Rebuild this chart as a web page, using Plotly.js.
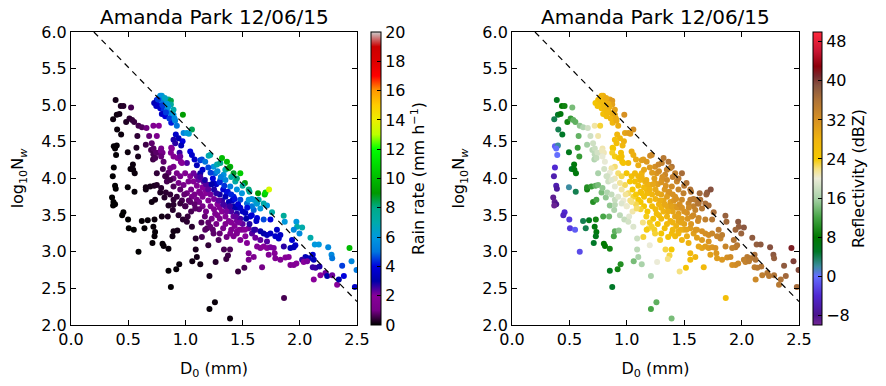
<!DOCTYPE html>
<html>
<head>
<meta charset="utf-8">
<script src="https://cdn.plot.ly/plotly-3.0.1.min.js"></script>
<style>
  html, body { margin: 0; padding: 0; background: #fff; }
  #chart { width: 886px; height: 386px; }
</style>
</head>
<body>
<div id="chart"></div>
<script>
// ---- Data ----
const plotTitle = 'Amanda Park 12/06/15';

// median volume diameter D0 (mm)
const d0 = [
  // black / dark cluster
  0.39,0.435,0.458,0.368,0.40,0.423,0.403,0.438,0.374,0.40,
  0.385,0.394,0.374,0.365,0.385,0.391,0.359,0.371,0.385,0.368,
  0.458,0.447,0.505,0.549,0.499,0.496,0.52,0.543,0.557,0.541,
  0.496,0.555,0.572,0.586,0.482,0.511,0.534,0.525,0.552,0.59,
  0.619,0.642,0.671,0.654,0.654,0.692,0.727,0.706,0.735,0.73,
  0.72,0.735,0.712,0.73,0.80,0.81,0.852,0.794,0.78,0.75,
  0.788,0.852,0.873,0.92,0.946,0.887,0.896,0.93,0.852,0.896,
  0.817,1.06,1.10,1.13,1.21,1.21,1.258,1.39,1.09,1.09,
  1.20,1.264,1.337,1.372,1.357,1.39,1.46,1.515,1.67,1.862,
  // top cluster
  0.773,0.794,0.81,0.75,0.765,0.727,0.823,0.852,0.873,0.873,
  0.78,0.81,0.838,0.794,0.823,0.867,0.896,0.876,0.91,0.978,
  0.896,0.925,1.057,1.03,0.916,0.975,0.963,0.78,0.79,0.80,
  0.76,0.85,0.83,0.86,0.84,0.745,0.905,0.82,
  // purple upper-left
  0.59,0.62,0.66,0.683,0.75,0.72,0.768,0.58,0.654,0.70,
  0.72,0.717,0.788,0.80,0.765,0.876,0.706,0.721,0.744,0.736,
  0.785,0.788,0.809,0.881,0.873,0.896,0.931,0.96,0.949,0.911,
  0.94,0.984,1.013,0.896,
  // middle band
  1.042,1.057,1.08,1.13,1.144,1.173,1.203,1.217,1.013,0.969,
  0.955,0.896,0.867,0.852,0.925,0.955,0.998,1.042,1.071,1.115,
  1.159,1.10,1.13,1.071,1.027,0.984,0.94,0.896,0.832,0.838,
  0.896,0.955,1.013,1.057,1.10,1.13,1.173,1.203,1.246,1.26,
  1.246,1.276,1.305,1.32,1.363,1.392,1.48,1.52,1.553,1.635,
  1.693,1.70,1.731,
  // diagonal band
  1.305,1.334,1.349,1.378,1.421,1.436,1.392,1.363,1.421,1.48,
  1.538,1.465,1.524,1.597,1.626,1.655,1.597,1.567,1.626,1.684,
  1.553,1.494,1.45,1.582,1.757,1.45,1.40,1.50,1.56,1.58,
  1.62,1.713,1.684,1.64,
  // right side
  1.859,1.868,1.97,1.976,2.02,1.947,1.997,2.093,2.131,2.166,
  2.248,2.277,2.283,2.434,2.452,2.385,2.37,2.481,2.496,1.655,
  1.684,1.713,1.743,1.786,1.816,1.932,1.961,1.947,2.049,2.078,
  2.113,2.122,2.113,2.137,2.172,2.224,2.18,2.239,2.283,2.326,
  2.341,2.122,2.02,1.918,1.743,1.80,1.83,1.655,1.713,1.86,
  // lower purple band
  1.655,1.684,1.713,1.743,1.772,1.78,1.728,1.786,1.83,1.874,
  1.903,1.918,1.947,1.97,2.034,2.064,1.553,1.597,1.553,1.626,
  1.538,1.48,1.524,1.582,1.611,1.421,1.392,1.45,1.494,1.553,
  1.611,
  // dense mass
  1.05,1.08,1.10,1.12,1.15,1.15,1.18,1.18,1.20,1.20,
  1.22,1.22,1.25,1.25,1.25,1.28,1.28,1.30,1.30,1.30,
  1.32,1.32,1.33,1.35,1.35,1.35,1.37,1.38,1.38,1.40,
  1.40,1.42,1.42,1.43,1.45,1.45,1.47,1.48,1.50,1.52,
  1.23,1.18,1.15,1.12,1.27,1.20,1.33,1.24,1.30,1.36,
  1.26,1.29,1.36,1.39,1.41,1.44,1.46,1.50,1.48,1.53,
  1.56,1.58,1.54,1.62,1.60,1.27,1.24,1.22,1.30,1.34,
  1.37,1.40,1.43,1.31,1.28,1.35,1.17,1.13,1.20,1.15,
  1.10,1.27,1.23,1.33,1.44,1.47,1.40,1.45,1.35,1.17,
  1.12,1.08,1.05,1.14,1.19,1.03,0.99,1.00,0.97,1.02,
  // extra mid points
  1.144,1.173,1.246,1.217,1.29,0.829,0.867,0.896,0.925,0.955,
  0.998,0.94,0.978,1.013,1.057,0.846,0.89,1.042,1.086,0.803,
  0.75,0.823,0.867
];

// log10 Nw
const nw = [
  5.07,4.99,4.99,4.81,4.87,4.88,4.67,4.60,4.44,4.45,
  4.41,4.32,4.15,4.03,3.90,3.86,3.74,3.68,3.65,3.63,
  3.54,3.50,3.32,3.30,3.44,4.36,4.13,4.12,4.07,4.19,
  3.88,3.82,4.42,4.30,4.77,4.82,4.80,4.97,4.77,3.00,
  3.42,3.32,3.43,3.85,3.88,3.89,3.90,3.68,3.71,3.44,
  3.34,3.27,3.12,3.21,3.11,3.08,3.04,3.48,3.81,3.91,
  3.87,2.74,2.52,2.76,2.83,3.21,3.28,3.29,3.63,3.64,
  3.74,2.87,2.93,2.83,2.67,2.22,2.31,2.09,3.18,3.03,
  3.09,2.86,3.03,2.95,2.90,3.03,2.73,2.78,2.79,2.37,
  5.11,5.13,5.09,5.07,5.03,5.03,5.05,5.08,5.06,5.01,
  4.96,4.94,4.94,4.88,4.85,4.89,4.87,4.76,4.79,4.87,
  4.94,4.72,4.67,4.61,4.60,4.51,4.45,5.13,5.06,5.00,
  5.08,4.98,4.90,4.82,5.02,4.99,4.82,5.10,
  4.72,4.70,4.69,4.58,4.58,4.72,4.72,4.58,4.46,4.39,
  4.33,4.26,4.41,4.35,4.35,4.42,4.48,4.41,4.35,4.28,
  4.38,4.30,4.23,4.41,4.35,4.30,4.28,4.23,4.35,4.48,
  4.55,4.62,4.62,4.53,
  4.37,4.32,4.26,4.25,4.26,4.23,4.31,4.32,4.21,4.21,
  4.30,4.16,4.14,4.08,4.07,4.03,4.07,4.03,3.96,3.98,
  3.96,4.03,4.07,4.07,3.96,3.91,3.94,4.00,4.03,3.96,
  3.89,3.85,3.80,3.75,3.71,3.80,3.85,3.91,3.94,4.07,
  4.16,4.19,4.21,4.28,4.23,4.16,4.07,3.94,3.85,3.80,
  3.78,3.81,3.85,
  3.98,4.05,4.12,4.14,4.07,3.96,3.89,3.80,3.75,3.71,
  3.66,3.60,3.53,3.71,3.66,3.59,3.57,3.48,3.46,3.44,
  3.71,3.80,3.85,3.62,3.54,4.00,4.02,3.90,3.82,3.72,
  3.66,3.63,3.66,3.71,
  3.49,3.41,3.41,3.34,3.33,3.30,3.25,3.19,3.10,3.10,
  3.06,2.96,2.91,3.05,2.87,2.67,2.81,2.52,2.75,3.28,
  3.25,3.23,3.25,3.21,3.18,3.16,3.09,3.06,2.93,2.91,
  2.96,2.89,2.79,2.78,2.80,2.71,2.68,2.67,2.68,2.55,
  2.62,2.62,2.89,3.05,3.44,3.30,3.23,3.16,3.14,3.07,
  3.05,3.07,3.05,3.06,3.05,2.98,2.96,2.91,2.89,2.92,
  2.93,2.82,2.82,2.84,2.86,2.87,2.89,2.93,2.98,3.07,
  3.12,3.16,3.21,3.25,3.19,3.21,3.25,3.28,3.30,3.32,
  3.30,
  3.85,3.78,3.90,3.82,3.88,3.75,3.92,3.80,3.70,3.85,
  3.78,3.62,3.72,3.58,3.85,3.65,3.50,3.78,3.60,3.45,
  3.70,3.55,3.85,3.62,3.48,3.75,3.58,3.68,3.42,3.55,
  3.40,3.62,3.48,3.35,3.52,3.42,3.30,3.45,3.38,3.30,
  3.45,3.55,3.62,3.68,3.38,3.40,3.32,3.30,3.25,3.20,
  3.52,3.70,3.55,3.62,3.70,3.60,3.65,3.55,3.60,3.45,
  3.38,3.50,3.60,3.42,3.30,3.92,4.00,4.08,3.95,3.90,
  3.82,3.78,3.72,4.02,4.10,3.98,3.98,4.02,4.15,4.12,
  4.18,3.80,3.92,3.65,3.48,3.40,3.30,3.25,3.38,3.48,
  3.58,3.65,3.55,3.40,3.32,3.70,3.78,3.62,3.70,3.48,
  3.20,3.30,3.25,3.34,3.16,3.81,3.78,3.71,3.75,3.66,
  3.62,3.50,3.44,3.41,3.34,3.48,3.57,3.68,3.59,4.13,
  4.07,4.03,3.98
];

// rain rate (mm/h)
const rr = [
  0.18,0.25,0.3,0.1,0.12,0.15,0.08,0.1,0.04,0.05,
  0.04,0.03,0.02,0.02,0.01,0.01,0.01,0.01,0.01,0.01,
  0.01,0.01,0.01,0.01,0.01,0.11,0.08,0.09,0.09,0.1,
  0.04,0.05,0.25,0.2,0.25,0.37,0.43,0.6,0.48,0.01,
  0.04,0.03,0.05,0.13,0.14,0.18,0.24,0.12,0.15,0.08,
  0.06,0.06,0.04,0.05,0.06,0.06,0.07,0.15,0.27,0.3,
  0.33,0.04,0.025,0.05,0.07,0.13,0.15,0.17,0.25,0.35,
  0.3,0.13,0.17,0.14,0.16,0.06,0.08,0.08,0.32,0.22,
  0.4,0.31,0.6,0.55,0.5,0.65,0.45,0.6,1.0,0.6,
  5.2,6.2,6.1,4.1,3.9,3.2,6.1,7.8,8.5,7.4,
  3.8,4.4,5.1,3.5,3.9,5.4,6.0,4.2,5.4,9.1,
  7.0,5.0,8.4,6.5,3.6,4.0,3.3,5.8,5.0,4.5,
  4.5,6.0,4.5,4.5,6.0,3.5,5.5,6.5,
  0.59,0.7,0.93,0.85,1.3,1.5,2.0,0.39,0.52,0.6,
  0.6,0.5,1.15,1.0,0.85,1.95,0.8,0.72,0.76,0.63,
  1.05,0.88,0.8,1.95,1.7,1.6,1.85,1.95,2.6,2.7,
  3.2,5.4,6.1,2.8,
  4.0,3.6,3.6,4.4,4.6,5.0,6.8,7.0,2.4,1.9,
  2.2,1.2,1.0,0.8,1.1,1.3,1.6,1.8,1.7,2.2,
  2.4,2.3,2.9,2.2,1.4,1.1,1.0,0.86,0.7,0.6,
  0.66,0.78,0.93,1.0,1.1,1.5,2.1,2.6,3.5,4.9,
  5.9,6.9,7.9,10,10,9.8,10.5,8.9,8.1,9.1,
  10.3,11,13.5,
  4.7,5.8,7.0,8.9,8.7,7.1,5.2,4.2,4.2,4.6,
  4.9,3.4,3.4,6.6,6.3,6.0,4.8,3.6,4.0,4.6,
  6.0,5.9,5.8,5.0,7.1,8.1,7.2,7.4,7.6,6.0,
  6.2,6.0,7.0,7.0,
  7.5,6.0,6.0,7.0,7.0,5.5,5.5,7.0,6.0,6.0,
  5.5,5.5,5.0,10,5.5,4.0,4.5,3.5,5.0,3.0,
  3.0,3.2,3.5,3.6,3.6,3.8,3.6,3.4,3.3,3.3,
  3.8,3.3,2.6,2.6,2.8,2.2,2.0,3.0,2.2,2.0,
  3.0,2.0,2.6,3.2,4.0,3.5,3.5,2.3,2.4,2.7,
  1.8,2.0,2.0,2.1,2.1,1.8,1.6,1.6,1.6,1.8,
  1.9,1.6,1.7,1.8,2.0,2.1,1.2,1.4,1.4,1.8,
  1.8,1.7,2.0,2.4,2.2,1.5,1.5,1.8,2.0,2.2,
  2.5,
  1.2,1.1,1.7,1.45,2.0,1.5,2.4,1.8,1.7,2.3,
  2.1,1.5,2.1,1.5,2.8,2.0,1.4,2.9,1.9,1.35,
  2.6,1.8,3.8,2.4,1.75,3.2,2.3,3.1,1.7,2.45,
  1.75,3.1,2.2,1.7,2.7,2.1,1.7,2.5,2.3,2.0,
  1.05,1.0,1.1,1.05,1.05,0.83,1.1,0.8,0.85,0.95,
  1.4,2.3,2.1,2.6,3.4,3.1,3.8,3.4,3.6,3.0,
  2.75,3.8,4.1,3.6,2.7,3.6,3.9,4.5,4.3,4.4,
  4.1,4.3,4.1,5.2,5.6,5.5,2.8,2.5,4.6,3.6,
  3.3,2.7,3.0,2.5,2.3,2.1,1.4,1.45,1.4,0.85,
  0.85,0.8,0.6,0.65,0.65,0.8,0.82,0.58,0.6,0.45,
  0.6,0.72,0.78,0.84,0.68,0.36,0.4,0.4,0.45,0.45,
  0.58,0.34,0.33,0.37,0.34,0.23,0.32,0.77,0.75,0.57,
  0.41,0.5,0.55
];

// reflectivity (dBZ)
const dbz = [
  6,8,9,4,5,7,4,5,-1,2,
  0,0,-4,-6,-6,-7,-9,-9,-8,-9.5,
  -4,-5,-3,-1,-3,6,5,7,7,7,
  2,4,11,11,9,11,13,14,13,-2,
  4,4,6,9,10,11,13,10,12,9,
  7,7,5,6,8,8,9,12,14,14,
  15,6,5,9,10,12,13,15,15,17,
  15,14,16,16,16,12,13,14,18,17,
  20,20,23,23,22,24,22,25,27,26,
  27,28,28.5,26,26,24.6,28.5,30,31,30,
  25.8,27,28,25.8,26.5,28.6,29.4,27.6,29,32,
  30,28.8,32.4,31,27.3,28.3,27.4,28,27,27,
  26.5,28.5,27,27.5,28.5,25.5,29,28.8,
  15,16.5,18.3,18.2,21,21.2,23.2,13.2,15.7,17.1,
  17.3,16.5,20.9,20.7,19.4,24.2,18.2,18,18.5,17.5,
  20.6,19.8,19.8,24.3,23.4,23.7,24.6,25.1,25.9,25.9,
  27.6,29.7,30.6,26,
  28.9,28.4,28.9,30.2,30.7,31.2,32.7,33,26.5,25.1,
  25.6,22.3,21.3,19.9,22.3,22.9,24.6,25.6,25.7,27.1,
  28.1,27.2,27.8,26.8,24.4,22.6,21.5,20.7,18.7,18.2,
  19.6,21.1,22.4,23.2,24,25.7,27.4,28.7,30.1,31.7,
  32.3,33.3,34,35.2,35.7,35.7,36.6,36.1,35.9,36.9,
  37.8,38.1,39.2,
  31.9,33.2,34,34.2,34.4,33.6,32.9,31.4,32.2,33,
  33.7,31.6,32.1,35.3,35.4,35.2,33.9,32.5,33.4,34.2,
  34.5,34.2,33.8,34.1,36.5,35.3,34.4,35.3,35.7,35,
  35.6,36.6,36.4,36.1,
  37.8,37,38.7,38,38.7,37.3,37.5,38.4,38,38.5,
  39.2,38.6,38,41.5,40,37.1,38.4,36.8,39.4,32.1,
  32.3,32.6,33.4,33.7,33.9,35.6,35.4,34.9,35.1,35.2,
  36.4,35.8,34.6,34.9,35.6,35.4,34.5,35.2,35.9,35.2,
  36,33.1,34.3,34.3,35.3,34.9,34.6,31,31.6,33.6,
  29.8,30.5,30.8,31.5,31.9,31.3,30.2,30.7,31.3,32.3,
  32.8,32,32.5,33,34,34.7,26.3,27.6,27.2,29.5,
  28.3,27.5,28.8,30.4,30.4,26.8,26.6,28.1,29.2,30.6,
  31.5,
  24,23.9,25.9,25.6,26.6,25.7,28.2,27,26.5,28,
  27.8,26.2,28,26.6,29.3,28,26.5,29.8,28,26.5,
  29.4,27.9,31.2,29.3,27.9,30.6,29.4,30.6,28,29.7,
  28.2,30.9,29.5,28.4,30.5,29.5,28.7,30.4,30.1,29.7,
  24.8,24.5,24.4,24.2,25.1,23.5,25.9,23.5,24.5,25.3,
  26.2,28.7,28.8,30.2,31.4,31.1,32,31.8,31.9,31.4,
  31.3,32.9,33,32.9,31.3,30.5,30.5,30.8,31.5,31.9,
  31.8,32,32.1,32.4,32.5,32.9,28.6,27.9,31,29.4,
  28.7,29.3,29.5,29.3,29.9,29.7,27.2,27.8,26.9,23.6,
  23.2,22.8,21,22,22.5,21.9,21.5,20.2,20.1,19.4,
  23.2,23.8,23.2,23.4,23.4,16.4,17.5,17.8,19.1,19.2,
  20.2,17.1,17.7,18.5,19.1,13.7,16.2,22,22.4,18.6,
  16,18.4,19.3
];

// reference line log10 Nw vs D0 (dashed)
const lineD0 = [0.2, 2.5];
const lineNw = [6.0, 2.32];

const xTicks = [0.0, 0.5, 1.0, 1.5, 2.0, 2.5];
const yTicks = [2.0, 2.5, 3.0, 3.5, 4.0, 4.5, 5.0, 5.5, 6.0];
const rrTicks = [0, 2, 4, 6, 8, 10, 12, 14, 16, 18, 20];
const dbzTicks = [-8, 0, 8, 16, 24, 32, 40, 48];

// ---- colour maps ----
const nipySpectral = [
  [0.00,'rgb(0,0,0)'],[0.05,'rgb(119,0,136)'],[0.10,'rgb(136,0,153)'],
  [0.15,'rgb(0,0,170)'],[0.20,'rgb(0,0,221)'],[0.25,'rgb(0,119,221)'],
  [0.30,'rgb(0,153,221)'],[0.35,'rgb(0,170,170)'],[0.40,'rgb(0,170,136)'],
  [0.45,'rgb(0,153,0)'],[0.50,'rgb(0,187,0)'],[0.55,'rgb(0,221,0)'],
  [0.60,'rgb(0,255,0)'],[0.65,'rgb(187,255,0)'],[0.70,'rgb(238,238,0)'],
  [0.75,'rgb(255,204,0)'],[0.80,'rgb(255,153,0)'],[0.85,'rgb(255,0,0)'],
  [0.90,'rgb(221,0,0)'],[0.95,'rgb(204,0,0)'],[1.00,'rgb(204,204,204)']
];
const reflScale = [
  [0.000,'rgb(115,40,150)'],[0.033,'rgb(75,20,140)'],[0.100,'rgb(80,40,210)'],
  [0.167,'rgb(100,110,255)'],[0.200,'rgb(60,140,160)'],[0.250,'rgb(0,120,40)'],
  [0.300,'rgb(0,120,0)'],[0.367,'rgb(70,165,70)'],[0.433,'rgb(170,210,170)'],
  [0.500,'rgb(235,235,215)'],[0.533,'rgb(245,225,130)'],[0.567,'rgb(245,200,0)'],
  [0.633,'rgb(240,180,15)'],[0.700,'rgb(215,145,35)'],[0.767,'rgb(175,115,55)'],
  [0.817,'rgb(135,85,65)'],[0.850,'rgb(120,40,45)'],[0.883,'rgb(140,0,10)'],
  [0.933,'rgb(200,20,50)'],[1.000,'rgb(255,40,60)']
];

const FONT = 'DejaVu Sans, Liberation Sans, sans-serif';

const cbCommon = {
  thickness: 10, thicknessmode: 'pixels',
  len: 1, lenmode: 'fraction', y: 0.5, yanchor: 'middle',
  xanchor: 'left', xpad: 0, ypad: 0,
  outlinewidth: 1, outlinecolor: '#000',
  ticks: 'inside', ticklen: 4, tickcolor: '#000', tickwidth: 1,
  tickfont: {family: FONT, size: 16, color: '#000'}
};

const traces = [
  {
    type: 'scatter', mode: 'markers', x: d0, y: nw, xaxis: 'x', yaxis: 'y',
    marker: {
      size: 6, color: rr, colorscale: nipySpectral, cmin: 0, cmax: 20,
      line: {width: 0},
      colorbar: Object.assign({}, cbCommon, {
        x: 0.412, tickvals: rrTicks, ticktext: rrTicks.map(String),
        title: {text: 'Rain rate (mm h<sup>−1</sup>)', side: 'right',
                font: {family: FONT, size: 16, color: '#000'}}
      })
    },
    hoverinfo: 'skip', showlegend: false
  },
  {
    type: 'scatter', mode: 'lines', x: lineD0, y: lineNw, xaxis: 'x', yaxis: 'y',
    line: {color: '#000', width: 1.2, dash: '6px,5px'}, showlegend: false, hoverinfo: 'skip'
  },
  {
    type: 'scatter', mode: 'markers', x: d0, y: nw, xaxis: 'x2', yaxis: 'y2',
    marker: {
      size: 6, color: dbz, colorscale: reflScale, cmin: -10, cmax: 50,
      line: {width: 0},
      colorbar: Object.assign({}, cbCommon, {
        x: 1.0192, thickness: 9, tickvals: dbzTicks, ticktext: dbzTicks.map(v => v < 0 ? '−' + Math.abs(v) : String(v)),
        title: {text: 'Reflectivity (dBZ)', side: 'right',
                font: {family: FONT, size: 16, color: '#000'}}
      })
    },
    hoverinfo: 'skip', showlegend: false
  },
  {
    type: 'scatter', mode: 'lines', x: lineD0, y: lineNw, xaxis: 'x2', yaxis: 'y2',
    line: {color: '#000', width: 1.2, dash: '6px,5px'}, showlegend: false, hoverinfo: 'skip'
  }
];

function xAxis(domain, anchor) {
  return {
    domain: domain, anchor: anchor, range: [0, 2.5],
    tickvals: xTicks, ticktext: xTicks.map(v => v.toFixed(1)),
    ticks: 'inside', ticklen: 5, tickwidth: 1, tickcolor: '#000',
    showline: true, mirror: 'ticks', linecolor: '#000', linewidth: 1,
    showgrid: false, zeroline: false,
    tickfont: {family: FONT, size: 16, color: '#000'},
    title: {text: 'D<sub>0</sub> (mm)', font: {family: FONT, size: 16, color: '#000'}, standoff: 14}
  };
}
function yAxis(anchor) {
  return {
    domain: [0, 1], anchor: anchor, range: [2, 6],
    tickvals: yTicks, ticktext: yTicks.map(v => v.toFixed(1)),
    ticks: 'inside', ticklen: 5, tickwidth: 1, tickcolor: '#000',
    showline: true, mirror: 'ticks', linecolor: '#000', linewidth: 1,
    showgrid: false, zeroline: false,
    tickfont: {family: FONT, size: 16, color: '#000'},
    title: {text: 'log<sub>10</sub>N<sub><i>w</i></sub>', font: {family: FONT, size: 16, color: '#000'}, standoff: 13}
  };
}

const layout = {
  width: 886, height: 386,
  margin: {l: 71, r: 87, t: 32, b: 61},
  paper_bgcolor: '#fff', plot_bgcolor: '#fff',
  font: {family: FONT, size: 16, color: '#000'},
  xaxis: xAxis([0, 0.3929], 'y'),
  yaxis: yAxis('x'),
  xaxis2: xAxis([0.6058, 1], 'y2'),
  yaxis2: yAxis('x2'),
  annotations: [
    {text: plotTitle, xref: 'x domain', yref: 'paper', x: 0.5, y: 1, xanchor: 'center', yanchor: 'bottom',
     yshift: 1, showarrow: false, font: {family: FONT, size: 20, color: '#000'}},
    {text: plotTitle, xref: 'x2 domain', yref: 'paper', x: 0.5, y: 1, xanchor: 'center', yanchor: 'bottom',
     yshift: 1, showarrow: false, font: {family: FONT, size: 20, color: '#000'}}
  ],
  showlegend: false
};

Plotly.newPlot('chart', traces, layout, {staticPlot: true, displayModeBar: false});
</script>
</body>
</html>
